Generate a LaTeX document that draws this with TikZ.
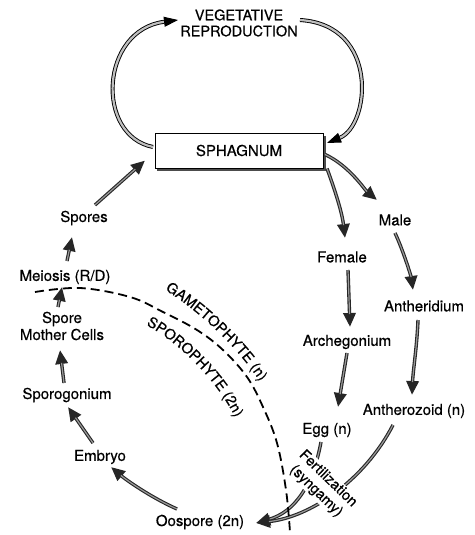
\documentclass[tikz,border=0pt]{standalone}
\usepackage{fontspec}
\setmainfont{TeX Gyre Heros}[FakeBold=0.5]
\usetikzlibrary{arrows.meta,calc,decorations.text}
\begin{document}
\begin{tikzpicture}[x=1pt,y=-1pt,
  lbl/.style={font=\fontsize{15}{17}\selectfont, inner sep=1.5pt, align=center},
  conn/.style={draw=black!85, line width=3.4pt, -{Triangle[length=14pt 0, width=12pt 0]},
    postaction={draw=black!40, line width=1.2pt, -, shorten >=13pt}},
  veglink/.style={draw=black, line width=0.9pt, double=black!25, double distance=2.2pt, -{Triangle[length=14pt 0, width=10pt 0]}},
  divider/.style={line width=1.8pt, dash pattern=on 9pt off 5pt},
  curvetext/.style={decorate, decoration={text along path, text align=left}},
]
\useasboundingbox (0,0) rectangle (474,535);

% nodes
\node[lbl, font=\fontsize{14.5}{16}\selectfont] (veg) at (239,23) {VEGETATIVE\\REPRODUCTION};
\fill[black!70] (157,136) rectangle (326,171);
\node[draw, fill=white, line width=0.9pt, minimum width=168pt, minimum height=35pt, inner sep=0pt, font=\fontsize{15}{17}\selectfont] (sph) at (239,150.5) {SPHAGNUM};
\node[lbl] (spores) at (84,218) {Spores};
\node[lbl] (meiosis) at (65,277) {Meiosis (R/D)};
\node[lbl] (smc) at (62,326) {Spore\\Mother Cells};
\node[lbl] (sporog) at (67,395) {Sporogonium};
\node[lbl] (embryo) at (100,457) {Embryo};
\node[lbl] (oospore) at (200,522) {Oospore (2n)};
\node[lbl] (egg) at (327,430) {Egg (n)};
\node[lbl] (anthz) at (414,411) {Antherozoid (n)};
\node[lbl] (archeg) at (347,342) {Archegonium};
\node[lbl] (anthd) at (424,306) {Antheridium};
\node[lbl] (male) at (395,220) {Male};
\node[lbl] (female) at (342,257) {Female};

% vegetative loops
\draw[veglink] ($(sph)+(-86,-3.5)$) .. controls ($(sph)+(-144,-15)$) and ($(veg)+(-139,7)$) .. ($(veg)+(-61,-3)$);
\draw[veglink] ($(veg)+(61,-3)$) .. controls ($(veg)+(141,2)$) and ($(sph)+(131,-25)$) .. ($(sph)+(88,-7.5)$);

% cycle connectors
\draw[conn] ($(spores)+(11,-13)$) -- ($(sph)+(-94,10)$);
\draw[conn] ($(meiosis)+(2,-16)$) -- ($(spores)+(-12,19)$);
\draw[conn] ($(smc)+(-4,-19)$) -- ($(meiosis)+(-3,10)$);
\draw[conn] ($(sporog)+(-3,-12)$) -- ($(smc)+(-2,24)$);
\draw[conn] ($(embryo)+(-7,-14)$) -- ($(sporog)+(1,12)$);
\draw[conn] ($(oospore)+(-23,-13)$) .. controls ($(oospore)+(-50,-25)$) and ($(embryo)+(25,22)$) .. ($(embryo)+(11,10)$);
\draw[conn] ($(sph)+(86,4)$) .. controls ($(sph)+(110,15)$) and ($(male)+(-30,-30)$) .. ($(male)+(-18,-20)$);
\draw[conn] ($(sph)+(88,18)$) .. controls ($(sph)+(96,40)$) and ($(female)+(0,-45)$) .. ($(female)+(3,-19)$);
\draw[conn] ($(female)+(6,13)$) -- ($(archeg)+(3,-15)$);
\draw[conn] ($(male)+(0,13)$) .. controls ($(male)+(8,30)$) and ($(anthd)+(-13,-30)$) .. ($(anthd)+(-11,-16)$);
\draw[conn] ($(anthd)+(-6,14)$) .. controls ($(anthd)+(-7,40)$) and ($(anthz)+(-1,-40)$) .. ($(anthz)+(-2,-16)$);
\draw[conn] ($(archeg)+(0,11)$) -- ($(egg)+(11,-23)$);
\draw[conn] ($(egg)+(-6,12)$) .. controls ($(egg)+(-14,55)$) and ($(oospore)+(95,-10)$) .. ($(oospore)+(56,1)$);
\draw[conn] ($(anthz)+(-21,14)$) .. controls ($(anthz)+(-50,70)$) and ($(oospore)+(110,-5)$) .. ($(oospore)+(56,1)$);

% fertilization label
\node[lbl, fill=white, inner sep=0.5pt, rotate=-44, font=\fontsize{14.5}{17}\selectfont] (fert) at (322,485) {Fertilization\\(syngamy)};

% generation divider
\draw[divider] plot[smooth, tension=0.6] coordinates {(35,292) (80,288) (130,297) (163,312) (197,330) (223,350) (247,377) (263,407) (277,443) (286,490) (290,532)};

\path[curvetext, decoration={text={|\fontsize{14.5}{15}\selectfont|GAMETOPHYTE (n)}}] (165,290) .. controls (190,305) and (240,345) .. (268,395);
\path[curvetext, decoration={text={|\fontsize{14.5}{15}\selectfont|SPOROPHYTE (2n)}}] (146,325) .. controls (175,340) and (220,380) .. (240,428);
\end{tikzpicture}
\end{document}
